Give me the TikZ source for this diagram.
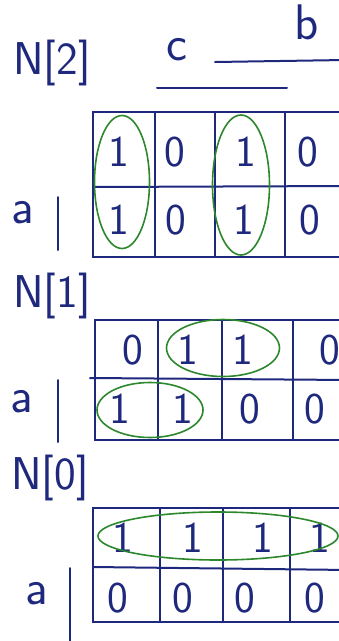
\documentclass[tikz,border=0pt]{standalone}
\usepackage{xcolor}
\definecolor{inkblue}{RGB}{30,40,125}
\definecolor{inkgreen}{RGB}{45,135,45}
\usetikzlibrary{shapes.geometric}

\begin{document}
\begin{tikzpicture}[x=1pt, y=-1pt,
  gridline/.style={draw=inkblue, line width=2pt, line cap=round},
  cellval/.style={text=inkblue, font=\fontsize{44}{46}\selectfont\sffamily, inner sep=0pt},
  maplbl/.style={text=inkblue, font=\fontsize{46}{50}\selectfont\sffamily, inner sep=0pt},
  varlbl/.style={text=inkblue, font=\fontsize{50}{54}\selectfont\sffamily, inner sep=0pt},
  group/.style={draw=inkgreen, line width=1.6pt, ellipse, inner sep=0pt}]
  \useasboundingbox (0,0) rectangle (339,641);
  \clip (0,0) rectangle (339,641);

  % N[2]
  \node[maplbl] (t2) at (52,63) {N[2]};
  \node[varlbl] (c2) at (177,50) {c};
  \node[varlbl] (b2) at (307,22) {b};
  \node[varlbl] (a2) at (23,213) {a};
  \draw[gridline] (157,88) -- (287,88);
  \draw[gridline] (215,62) -- (345,60);
  \draw[gridline] (58,197) -- (58,250);
  \draw[gridline] (93,112) rectangle (350,257);
  \draw[gridline] (93,187) -- (350,186);
  \foreach \x in {155,215,285}
    \draw[gridline] (\x,112) -- (\x,257);
  \foreach \v/\x [count=\i] in {1/119,0/175,1/246,0/308}
    \node[cellval] (m2a\i) at (\x,152) {\v};
  \foreach \v/\x [count=\i] in {1/119,0/176,1/244,0/310}
    \node[cellval] (m2b\i) at (\x,220) {\v};
  \node[group, minimum width=55pt, minimum height=133pt] (g2a) at (122,182) {};
  \node[group, minimum width=57pt, minimum height=140pt] (g2b) at (241,185) {};

  % N[1]
  \node[maplbl] (t1) at (52,296) {N[1]};
  \node[varlbl] (a1) at (22,402) {a};
  \draw[gridline] (58,380) -- (58,442);
  \draw[gridline] (95,320) rectangle (350,440);
  \draw[gridline] (90,378) -- (350,380);
  \foreach \x in {158,222,293}
    \draw[gridline] (\x,320) -- (\x,440);
  \foreach \v/\x [count=\i] in {0/133,1/188,1/243,0/330}
    \node[cellval] (m1a\i) at (\x,350) {\v};
  \foreach \v/\x [count=\i] in {1/120,1/183,0/250,0/315}
    \node[cellval] (m1b\i) at (\x,409) {\v};
  \node[group, minimum width=113pt, minimum height=57pt] (g1a) at (223,348) {};
  \node[group, minimum width=106pt, minimum height=55pt] (g1b) at (150,410) {};

  % N[0]
  \node[maplbl] (t0) at (50,478) {N[0]};
  \node[varlbl] (a0) at (37,594) {a};
  \draw[gridline] (70,568) -- (70,641);
  \draw[gridline] (93,508) rectangle (350,622);
  \draw[gridline] (93,567) -- (350,570);
  \foreach \x in {160,223,290}
    \draw[gridline] (\x,508) -- (\x,622);
  \foreach \v/\x [count=\i] in {1/123,1/193,1/263,1/320}
    \node[cellval] (m0a\i) at (\x,538) {\v};
  \foreach \v/\x [count=\i] in {0/118,0/183,0/245,0/315}
    \node[cellval] (m0b\i) at (\x,598) {\v};
  \node[group, minimum width=240pt, minimum height=48pt] (g0a) at (218,536) {};
\end{tikzpicture}
\end{document}
